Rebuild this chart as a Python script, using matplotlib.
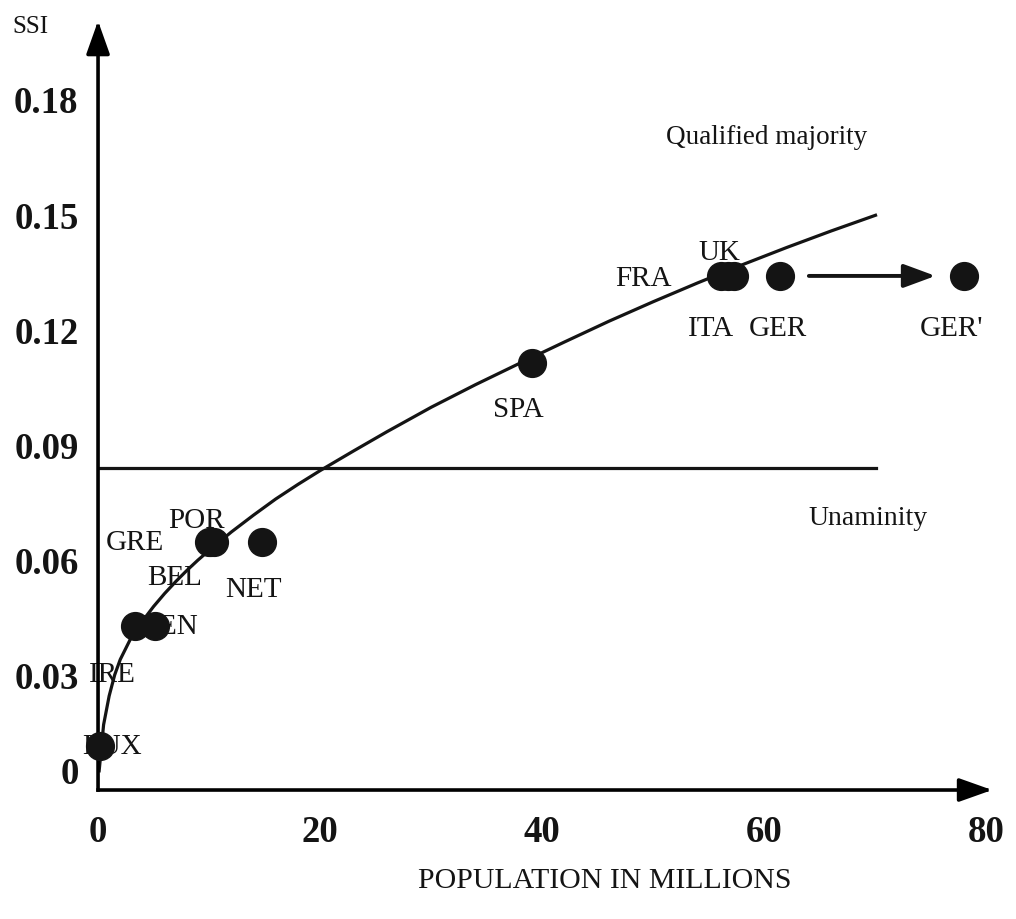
import matplotlib.pyplot as plt

# values
countries = ['LUX', 'IRE', 'DEN', 'GRE', 'BEL', 'POR', 'NET', 'SPA',
             'FRA', 'ITA', 'UK', 'GER', "GER'"]
population = [0.2, 3.3, 5.1, 10.0, 10.2, 10.4, 14.8, 39.1,
              56.1, 56.7, 57.3, 61.4, 78.0]
ssi = [0.0115, 0.0427, 0.0427, 0.0646, 0.0646, 0.0646, 0.0646, 0.1112,
       0.1339, 0.1339, 0.1339, 0.1339, 0.1339]

# qualified majority curve
curve_x = [0.1, 0.5, 1.0, 1.5, 2.0, 3.0, 4.0, 5.0, 6.0, 7.0, 8.0, 9.0,
           10.0, 12.0, 14.0, 16.0, 18.0, 20.0, 23.0, 26.0, 30.0, 34.0,
           38.0, 42.0, 46.0, 50.0, 54.0, 58.0, 62.0, 66.0, 70.0]
curve_y = [0.005, 0.017, 0.0245, 0.0300, 0.0340, 0.0398, 0.0440, 0.0478,
           0.0512, 0.0543, 0.0572, 0.0599, 0.0624, 0.0672, 0.0716, 0.0758,
           0.0796, 0.0832, 0.0883, 0.0933, 0.0997, 0.1056, 0.1112, 0.1167,
           0.1221, 0.1272, 0.1321, 0.1368, 0.1413, 0.1456, 0.1497]

# unanimity level
unanimity = 0.0839
unanimity_x = [0, 70]

xticks = [0, 20, 40, 60, 80]
yticks = [0.03, 0.06, 0.09, 0.12, 0.15, 0.18]
ytick_labels = ['0.03', '0.06', '0.09', '0.12', '0.15', '0.18']

# where each country name sits
label_pos = {
    'LUX': (1.26, 0.0115), 'IRE': (1.26, 0.0302), 'DEN': (6.3, 0.0427),
    'GRE': (3.33, 0.0646), 'BEL': (6.9, 0.0555), 'POR': (8.9, 0.0703),
    'NET': (14.0, 0.0524), 'SPA': (37.8, 0.0992), 'FRA': (49.1, 0.1334),
    'ITA': (55.2, 0.1203), 'UK': (55.9, 0.1401), 'GER': (61.2, 0.1203),
    "GER'": (76.8, 0.1203),
}

serif = 'Liberation Serif'
plt.rcParams['font.family'] = [serif, 'DejaVu Serif']
ink = '#141414'

fig = plt.figure(figsize=(10.16, 9.2), dpi=100)
ax = fig.add_axes([0.0965, 0.1402, 0.880, 0.8359])
ax.set_xlim(0, 80.5)
ax.set_ylim(0, 0.2003)
for s in ax.spines.values():
    s.set_visible(False)

# axes drawn as arrows
arrow_kw = dict(arrowstyle='-|>,head_length=1.35,head_width=0.48', lw=2.6,
                color='black', mutation_scale=15, shrinkA=0, shrinkB=0,
                capstyle='projecting')
ax.annotate('', xy=(1, 0), xytext=(0, 0), xycoords='axes fraction',
            arrowprops=arrow_kw, annotation_clip=False)
ax.annotate('', xy=(0, 1), xytext=(0, 0), xycoords='axes fraction',
            arrowprops=arrow_kw, annotation_clip=False)

ax.set_xticks(xticks)
ax.set_xticklabels([str(t) for t in xticks], fontsize=26.5, fontweight='bold')
ax.set_yticks(yticks)
ax.set_yticklabels(ytick_labels, fontsize=26.5, fontweight='bold')
ax.tick_params(axis='x', length=0, pad=17, colors=ink)
ax.tick_params(axis='y', length=0, pad=14, colors=ink)
ax.text(-0.0213, 0.0044, '0', transform=ax.get_yaxis_transform(),
        ha='right', va='center', fontsize=26.5, fontweight='bold', color=ink)

ax.plot(curve_x, curve_y, color=ink, lw=2.3, zorder=2, clip_on=False,
        solid_joinstyle='round')
ax.plot(unanimity_x, [unanimity, unanimity], color=ink, lw=2.3, zorder=2)

ax.scatter(population, ssi, s=400, color=ink, zorder=3, clip_on=False)

for name in countries:
    x, y = label_pos[name]
    ax.text(x, y, name, ha='center', va='center', fontsize=21,
            color=ink, zorder=1)

# German unification shift
ger = countries.index('GER')
ax.annotate('', xy=(75.4, ssi[ger]), xytext=(64.0, ssi[ger]),
            arrowprops=dict(arrowstyle='-|>,head_length=1.3,head_width=0.48',
                            lw=2.8, color=ink, mutation_scale=15,
                            shrinkA=0, shrinkB=0))

ax.text(60.2, 0.1701, 'Qualified majority', ha='center', va='center',
        fontsize=19.5, color=ink)
ax.text(69.3, 0.0709, 'Unaminity', ha='center', va='center',
        fontsize=20, color=ink)

fig.text(30 / 1016, 1 - 27 / 920, 'SSI', ha='center', va='center',
         fontsize=18, color=ink)
fig.text(605 / 1016, 1 - 881 / 920, 'POPULATION IN MILLIONS', ha='center',
         va='center', fontsize=21.5, color=ink)

fig.savefig('out.png', dpi=100)
